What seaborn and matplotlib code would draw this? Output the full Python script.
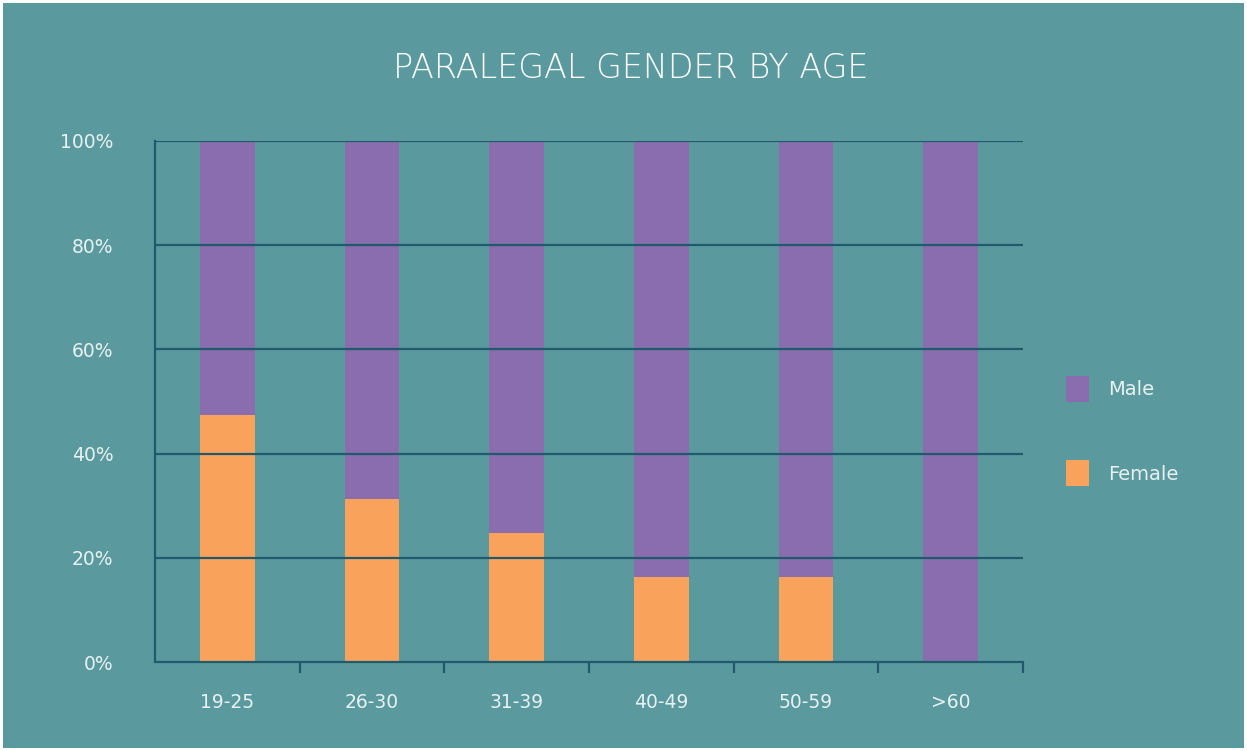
import matplotlib
matplotlib.use("Agg")
import matplotlib.pyplot as plt
from matplotlib.patches import Patch
import seaborn as sns
import pandas as pd
import numpy as np

ages = ["19-25", "26-30", "31-39", "40-49", "50-59", ">60"]
female = [47.5, 31.3, 24.8, 16.3, 16.3, 0.0]
male = [100 - f for f in female]
y_ticks = [0, 20, 40, 60, 80, 100]
y_tick_labels = ["0%", "20%", "40%", "60%", "80%", "100%"]

BG = "#5a9a9e"
PURPLE = "#8a6dae"
ORANGE = "#f9a25c"
LINE = "#1f5b6c"
TEXT = "#e8f1f1"

sns.set_style("white")
plt.rcParams["font.family"] = ["DejaVu Sans"]

df = pd.DataFrame({"age": ages, "female": female, "male": male})
df["total"] = df["female"] + df["male"]

fig = plt.figure(figsize=(12.47, 7.51), dpi=100, facecolor=BG)
ax = fig.add_axes([155 / 1247, 1 - 662 / 751, (1023 - 155) / 1247, (662 - 141) / 751])
ax.set_facecolor(BG)

sns.barplot(data=df, x="age", y="total", color=PURPLE, width=0.38, saturation=1, ax=ax,
            zorder=1, linewidth=0, edgecolor="none")
sns.barplot(data=df, x="age", y="female", color=ORANGE, width=0.38, saturation=1, ax=ax,
            zorder=2, linewidth=0, edgecolor="none")

ax.set_xlim(-0.5, len(ages) - 0.5)
ax.set_ylim(0, 100)
ax.set_yticks(y_ticks)
ax.set_yticklabels(y_tick_labels)
for y in y_ticks[1:]:
    ax.axhline(y, color=LINE, lw=1.6, zorder=3)

for s in ["top", "right"]:
    ax.spines[s].set_visible(False)
for s in ["left", "bottom"]:
    ax.spines[s].set_color(LINE)
    ax.spines[s].set_linewidth(1.6)
    ax.spines[s].set_zorder(4)

ax.set_xticks(np.arange(len(ages)))
ax.set_xticklabels(ages)
ax.set_xticks(np.arange(len(ages)) + 0.5, minor=True)
ax.tick_params(axis="x", which="major", bottom=True, length=0, pad=22, labelsize=13.5, labelcolor=TEXT)
ax.tick_params(axis="x", which="minor", bottom=True, length=8, width=1.6, color=LINE, direction="out")
ax.tick_params(axis="y", left=True, length=0, pad=30, labelsize=13.5, labelcolor=TEXT)
ax.set_xlabel("")
ax.set_ylabel("")

fig.text(631 / 1247, 1 - 68 / 751, "PARALEGAL GENDER BY AGE", ha="center", va="center",
         color="white", fontsize=24, fontweight="light")

handles = [Patch(facecolor=PURPLE, edgecolor="none", label="Male"),
           Patch(facecolor=ORANGE, edgecolor="none", label="Female")]
leg = fig.legend(handles=handles, loc="center left", bbox_to_anchor=(1048 / 1247, 1 - 431 / 751),
                 frameon=False, fontsize=14, labelcolor=TEXT, handlelength=1.2, handleheight=1.7,
                 handletextpad=1.0, labelspacing=3.0)

fig.patch.set_edgecolor("white")
fig.patch.set_linewidth(3)

fig.savefig("out.png", dpi=100, facecolor=BG, edgecolor="white")
